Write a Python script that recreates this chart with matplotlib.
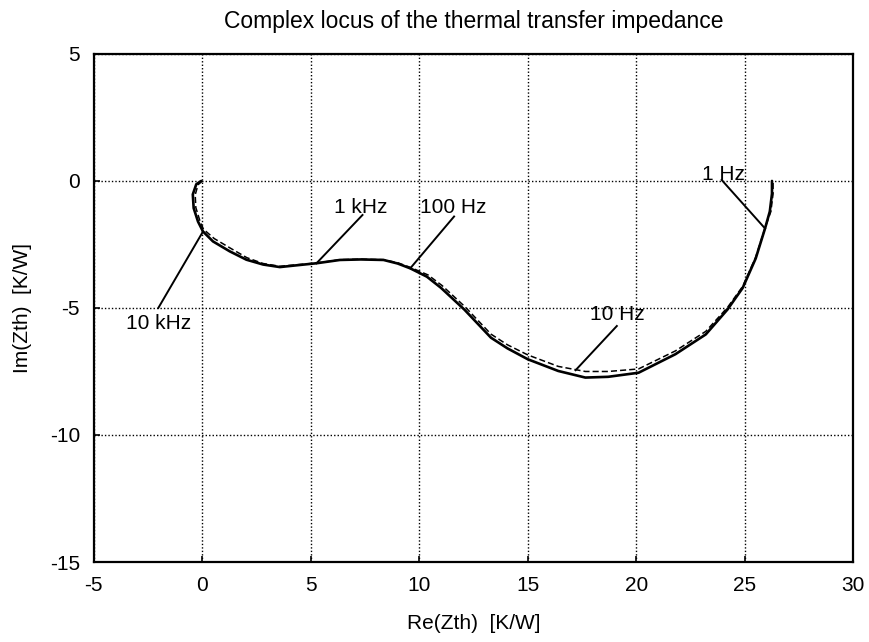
import matplotlib
matplotlib.use("Agg")
import matplotlib.pyplot as plt

plt.rcParams['font.family'] = ['Liberation Sans', 'DejaVu Sans']
plt.rcParams['axes.unicode_minus'] = False

# Measured locus (solid)
solid_re = [-0.05, -0.28, -0.44, -0.40, -0.20, 0.03, 0.49, 1.26, 2.03, 2.80, 3.57, 4.35,
            5.26, 6.34, 7.30, 8.35, 9.00, 9.58, 10.35, 11.00, 12.07, 13.30, 14.06, 15.00,
            16.40, 17.65, 18.70, 20.10, 21.80, 23.20, 24.20, 24.90, 25.50, 25.93, 26.15,
            26.25, 26.25]
solid_im = [0.00, -0.13, -0.53, -1.07, -1.60, -1.99, -2.38, -2.77, -3.10, -3.29, -3.39, -3.32,
            -3.24, -3.11, -3.09, -3.11, -3.25, -3.44, -3.77, -4.21, -5.06, -6.17, -6.59, -7.02,
            -7.48, -7.74, -7.71, -7.55, -6.82, -6.04, -5.06, -4.21, -3.05, -1.87, -1.20,
            -0.50, 0.00]

# Model locus (dashed)
dashed_re = [0.00, -0.20, -0.33, -0.30, -0.12, 0.05, 0.55, 1.30, 2.05, 2.80, 3.57, 4.35,
             5.26, 6.34, 7.30, 8.35, 9.00, 9.58, 10.40, 11.05, 12.10, 13.30, 14.06, 15.00,
             16.40, 17.65, 18.70, 20.10, 21.80, 23.20, 24.20, 24.90, 25.50, 25.93, 26.20,
             26.30, 26.30]
dashed_im = [0.00, -0.15, -0.55, -1.05, -1.55, -1.90, -2.27, -2.65, -3.02, -3.25, -3.36, -3.30,
             -3.23, -3.10, -3.08, -3.10, -3.22, -3.40, -3.70, -4.12, -4.95, -6.03, -6.45, -6.85,
             -7.30, -7.50, -7.50, -7.40, -6.69, -5.92, -4.98, -4.15, -3.00, -1.85, -1.20,
             -0.50, 0.00]

# Frequency annotations: label, curve point, line end, text position
ann_labels = ["10 kHz", "1 kHz", "100 Hz", "10 Hz", "1 Hz"]
ann_point_re = [0.03, 5.26, 9.58, 17.2, 25.93]
ann_point_im = [-1.99, -3.24, -3.44, -7.45, -1.87]
ann_end_re = [-2.03, 7.38, 11.6, 19.1, 23.93]
ann_end_im = [-5.0, -1.34, -1.40, -5.71, 0.04]
ann_text_re = [-2.0, 7.3, 11.55, 19.1, 24.0]
ann_text_im = [-5.6, -1.05, -1.05, -5.25, 0.25]

x_ticks = [-5, 0, 5, 10, 15, 20, 25, 30]
y_ticks = [-15, -10, -5, 0, 5]

fig = plt.figure(figsize=(8.69, 6.42), dpi=100)
ax = fig.add_axes([0.108, 0.1246, 0.874, 0.7914])

ax.plot(solid_re, solid_im, color='black', lw=1.9, solid_capstyle='round')
ax.plot(dashed_re, dashed_im, color='black', lw=1.1, ls=(0, (4, 2)))

for lab, px, py, ex, ey, tx, ty in zip(ann_labels, ann_point_re, ann_point_im,
                                         ann_end_re, ann_end_im, ann_text_re, ann_text_im):
    ax.plot([px, ex], [py, ey], color='black', lw=1.4)
    ax.text(tx, ty, lab, ha='center', va='center', fontsize=15)

ax.set_xlim(-5, 30)
ax.set_ylim(-15, 5)
ax.set_xticks(x_ticks)
ax.set_yticks(y_ticks)
ax.grid(True, color='black', ls=(0, (1, 1.5)), lw=1.0)
ax.tick_params(direction='in', length=4, width=1.2, labelsize=15, pad=10)
for s in ax.spines.values():
    s.set_linewidth(1.6)

ax.set_xlabel("Re(Zth)  [K/W]", fontsize=15, labelpad=14)
ax.set_ylabel("Im(Zth)  [K/W]", fontsize=15, labelpad=13)
ax.set_title("Complex locus of the thermal transfer impedance", fontsize=16.5, pad=19)

fig.savefig("out.png", dpi=100)
